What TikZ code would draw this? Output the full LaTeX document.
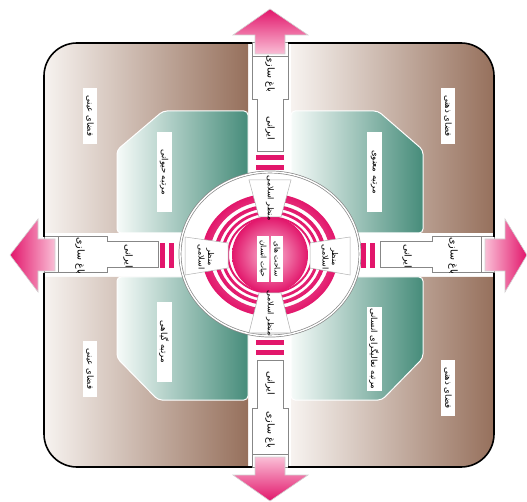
\documentclass[tikz,border=0pt]{standalone}
\usepackage{fontspec}
\usepackage{tikz}
\newfontfamily\farsi[Script=Arabic]{DejaVu Sans}
\TeXXeTstate=1
\newcommand{\fa}[1]{\beginR#1\endR}
\definecolor{qbrown}{RGB}{150,112,92}
\definecolor{qbrownlt}{RGB}{247,243,240}
\definecolor{qteal}{RGB}{70,140,122}
\definecolor{qteallt}{RGB}{246,251,249}
\definecolor{ringpink}{RGB}{226,22,107}
\definecolor{softpink}{RGB}{250,190,214}
\definecolor{wallgray}{RGB}{135,135,135}

\begin{document}
\begin{tikzpicture}[x=1pt,y=-1pt,
  court/.style={draw=wallgray,fill=white,double=white,double distance=1.4pt,line width=0.7pt},
  wall/.style={fill=white,draw=wallgray,line width=1pt},
  tag/.style={fill=white,rotate=-90,inner sep=1.5pt,minimum height=14pt,font=\fontsize{8.5}{10}\selectfont\farsi},
  word/.style={rotate=-90,inner sep=1pt,align=center,font=\fontsize{9.5}{11}\selectfont\farsi},
  trap/.style={fill=white,draw=gray!60,line width=0.5pt},
  arrowbox/.style={draw=gray!35,line width=0.6pt}]
  \useasboundingbox (0,0) rectangle (527,502);
  % outer quadrants
  \shade[left color=qbrownlt,right color=qbrown,rounded corners=33]
    (44,138) -- (44,43) -- (146,43) [sharp corners] -- (248,43) -- (248,233) -- (44,233) -- cycle;
  \shade[left color=qbrownlt,right color=qbrown,rounded corners=33]
    (494,138) -- (494,43) -- (392,43) [sharp corners] -- (291,43) -- (291,233) -- (494,233) -- cycle;
  \shade[left color=qbrownlt,right color=qbrown,rounded corners=33]
    (44,372) -- (44,467) -- (146,467) [sharp corners] -- (248,467) -- (248,277) -- (44,277) -- cycle;
  \shade[left color=qbrownlt,right color=qbrown,rounded corners=33]
    (494,372) -- (494,467) -- (392,467) [sharp corners] -- (291,467) -- (291,277) -- (494,277) -- cycle;
  % green levels
  \shadedraw[left color=qteallt,right color=qteal,draw=white,line width=1pt,rounded corners=4]
    (117,233) -- (117,150) -- (163,111) -- (248,111) -- (248,233) -- cycle;
  \shadedraw[left color=qteallt,right color=qteal,draw=white,line width=1pt,rounded corners=4]
    (291,111) -- (378,111) -- (423,150) -- (423,233) -- (291,233) -- cycle;
  \shadedraw[left color=qteallt,right color=qteal,draw=white,line width=1pt,rounded corners=4]
    (117,277) -- (248,277) -- (248,400) -- (158,400) -- (117,358) -- cycle;
  \shadedraw[left color=qteallt,right color=qteal,draw=white,line width=1pt,rounded corners=4]
    (291,277) -- (423,277) -- (423,358) -- (382,400) -- (291,400) -- cycle;
  % central court
  \draw[court] (270,254) ellipse [x radius=90,y radius=82];
  % corridors
  \filldraw[wall] (252,43) -- (252,100) -- (257,100) -- (257,152) -- (283,152) -- (283,100) -- (288,100) -- (288,43) -- cycle;
  \filldraw[wall] (252,43) rectangle (288,57);
  \filldraw[wall] (252,467) -- (252,408) -- (257,408) -- (257,360) -- (283,360) -- (283,408) -- (288,408) -- (288,467) -- cycle;
  \filldraw[wall] (252,454) rectangle (288,467);
  \filldraw[wall] (44,237) -- (107,237) -- (107,242) -- (158,242) -- (158,268) -- (107,268) -- (107,273) -- (44,273) -- cycle;
  \filldraw[wall] (44,237) rectangle (58,273);
  \filldraw[wall] (494,237) -- (432,237) -- (432,242) -- (380,242) -- (380,268) -- (432,268) -- (432,273) -- (494,273) -- cycle;
  \filldraw[wall] (481,237) rectangle (494,273);
  \foreach \y in {155,165,340,350}{\fill[ringpink] (256,\y) rectangle (284,\y+5);}
  \foreach \x in {160,169,361,370}{\fill[ringpink] (\x,243) rectangle (\x+5,268);}
  % rings and sphere
  \foreach \ro/\ri in {68/60,56/52,49/46,43/41}{
    \shade[even odd rule,inner color=softpink,outer color=ringpink]
      (270,255) ellipse [x radius=\ro,y radius=0.9*\ro] ellipse [x radius=\ri,y radius=0.9*\ri];}
  \shade[inner color=softpink,outer color=ringpink] (270,255) circle [radius=38];
  \filldraw[trap] (249,180) -- (291,180) -- (281,217) -- (259,217) -- cycle;
  \filldraw[trap] (259,293) -- (281,293) -- (291,333) -- (249,333) -- cycle;
  \filldraw[trap] (185,237) -- (228,243) -- (228,268) -- (185,275) -- cycle;
  \filldraw[trap] (310,243) -- (350,237) -- (350,275) -- (310,268) -- cycle;
  % border
  \draw[line width=1.6pt,rounded corners=33] (44,237) -- (44,43) -- (252,43);
  \draw[line width=1.6pt,rounded corners=33] (288,43) -- (494,43) -- (494,237);
  \draw[line width=1.6pt,rounded corners=33] (494,273) -- (494,467) -- (288,467);
  \draw[line width=1.6pt,rounded corners=33] (252,467) -- (44,467) -- (44,273);
  % arrows
  \shadedraw[arrowbox,top color=ringpink,bottom color=softpink]
    (255,54) -- (255,35) -- (233,35) -- (270,9) -- (308,35) -- (285,35) -- (285,54) -- cycle;
  \shadedraw[arrowbox,top color=softpink,bottom color=ringpink]
    (255,457) -- (255,475) -- (233,475) -- (270,501) -- (308,475) -- (285,475) -- (285,457) -- cycle;
  \shadedraw[arrowbox,left color=ringpink,right color=softpink]
    (55,239) -- (38,239) -- (38,219) -- (10,255) -- (38,292) -- (38,271) -- (55,271) -- cycle;
  \shadedraw[arrowbox,left color=softpink,right color=ringpink]
    (485,239) -- (505,239) -- (505,219) -- (527,255) -- (505,292) -- (505,271) -- (485,271) -- cycle;
  % labels
  \foreach \x/\y/\t/\n in {90/116/فضای عینی/objTL,90/369/فضای عینی/objBL,
                           448/116/فضای ذهنی/mentTR,448/388/فضای ذهنی/mentBR}{
    \node[tag,minimum width=56pt] (\n) at (\x,\y) {\fa{\t}};}
  \foreach \x/\y/\t/\n in {164/172/مرتبه حیوانی/lvlTL,374/172/مرتبه معنوی/lvlTR,
                           164/342/مرتبه گیاهی/lvlBL,374/349/مرتبه تعالیگرای انسانی/lvlBR}{
    \node[tag,minimum width=80pt,minimum height=15pt] (\n) at (\x,\y) {\fa{\t}};}
  \node[tag,minimum width=46pt,minimum height=12pt,font=\fontsize{7.5}{9}\selectfont\farsi] (sahat) at (277,259) {\fa{ساحت های}};
  \node[tag,minimum width=46pt,minimum height=12pt,font=\fontsize{7.5}{9}\selectfont\farsi] (hayat) at (263,259) {\fa{حیات انسان}};
  \node[word,font=\fontsize{8}{9.5}\selectfont\farsi] (viewT) at (270,198) {\fa{منظر اسلامی}};
  \node[word,font=\fontsize{8}{9.5}\selectfont\farsi] (viewB) at (270,313) {\fa{منظر اسلامی}};
  \node[word,font=\fontsize{8}{9.5}\selectfont\farsi] (viewL) at (206,257) {\fa{منظر}\\\fa{اسلامی}};
  \node[word,font=\fontsize{8}{9.5}\selectfont\farsi] (viewR) at (330,257) {\fa{منظر}\\\fa{اسلامی}};
  \foreach \x/\y/\t/\n in {270/74/باغ سازی/gardT,270/128/ایرانی/iranT,
                           270/383/ایرانی/iranB,270/430/باغ سازی/gardB,
                           80/256/باغ سازی/gardL,128/256/ایرانی/iranL,
                           407/256/ایرانی/iranR,453/256/باغ سازی/gardR}{
    \node[word] (\n) at (\x,\y) {\fa{\t}};}
\end{tikzpicture}
\end{document}
